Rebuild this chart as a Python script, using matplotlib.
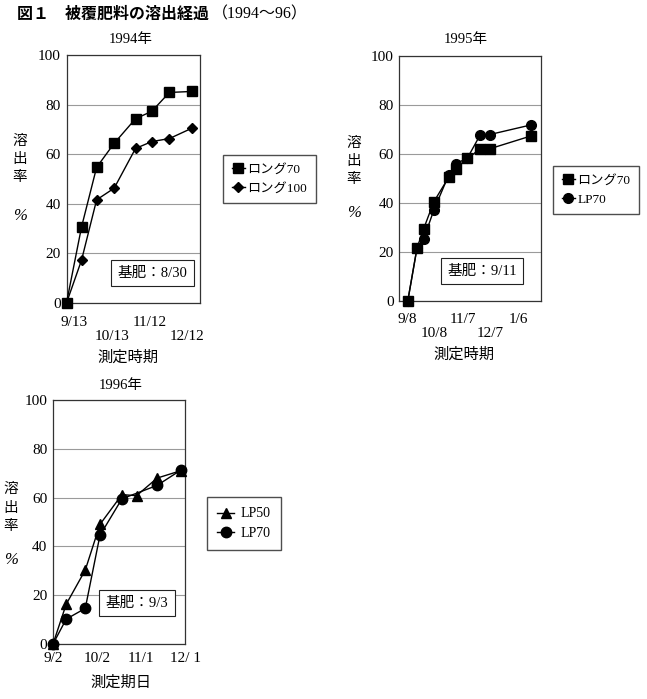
import matplotlib
matplotlib.use('Agg')
import matplotlib.pyplot as plt
import matplotlib.dates as mdates
import pandas as pd

plt.rcParams['font.family'] = ['Liberation Serif', 'Noto Sans CJK JP']

W, H = 647, 699

# ---------------- data ----------------
# 1994
dates_1994 = ['1994-09-07', '1994-09-19', '1994-10-01', '1994-10-15',
              '1994-11-01', '1994-11-14', '1994-11-28', '1994-12-16']
long70_1994 = [0, 30.7, 54.7, 64.4, 74.3, 77.3, 84.9, 85.3]
long100_1994 = [0, 17.3, 41.6, 46.3, 62.3, 65.1, 66.3, 70.5]
ticks_1994 = ['1994-09-13', '1994-10-13', '1994-11-12', '1994-12-12']
ticklabels_1994 = ['9/13', '\n10/13', '11/12', '\n12/12']
xlim_1994 = ('1994-09-07', '1994-12-22')

# 1995
dates_1995 = ['1995-09-09', '1995-09-19', '1995-09-26', '1995-10-07', '1995-10-23',
              '1995-10-31', '1995-11-12', '1995-11-26', '1995-12-06', '1996-01-19']
long70_1995 = [0, 21.8, 29.5, 40.6, 50.6, 53.9, 58.3, 62.2, 62.2, 67.4]
lp70_1995 = [0, 21.8, 25.3, 37.2, 51.5, 56.2, 58.4, 68.0, 68.0, 71.9]
ticks_1995 = ['1995-09-08', '1995-10-08', '1995-11-07', '1995-12-07', '1996-01-06']
ticklabels_1995 = ['9/8', '\n10/8', '11/7', '\n12/7', '1/6']
xlim_1995 = ('1995-08-31', '1996-01-30')

# 1996
dates_lp50_1996 = ['1996-09-02', '1996-09-11', '1996-09-24', '1996-10-04',
                   '1996-10-19', '1996-10-29', '1996-11-12', '1996-11-28']
lp50_1996 = [0, 16.3, 30.3, 49.0, 61.2, 60.8, 68.0, 71.0]
dates_lp70_1996 = ['1996-09-02', '1996-09-11', '1996-09-24', '1996-10-04',
                   '1996-10-19', '1996-11-12', '1996-11-28']
lp70_1996 = [0, 10.2, 14.6, 44.5, 59.5, 65.0, 71.2]
ticks_1996 = ['1996-09-02', '1996-10-02', '1996-11-01', '1996-12-01']
ticklabels_1996 = ['9/2', '10/2', '11/1', '12/ 1']
xlim_1996 = ('1996-09-02', '1996-12-01')

yticks = [0, 20, 40, 60, 80, 100]


def d(lst):
    return mdates.date2num(pd.to_datetime(list(lst)))


def rect(l, r, t, b):
    return [l / W, 1 - b / H, (r - l) / W, (b - t) / H]


def fx(x):
    return x / W


def fy(y):
    return 1 - y / H


fig = plt.figure(figsize=(W / 100, H / 100), dpi=100)


def style(ax, xlim, ticks, labels, pad, ls):
    ax.set_xlim(d(xlim))
    ax.set_ylim(0, 100)
    ax.set_yticks(yticks)
    ax.set_yticklabels([str(v) for v in yticks], fontsize=11)
    ax.set_xticks(d(ticks))
    ax.set_xticklabels(labels, fontsize=11, linespacing=ls)
    ax.tick_params(axis='both', length=0)
    ax.tick_params(axis='y', pad=4)
    ax.tick_params(axis='x', pad=pad)
    ax.grid(axis='y', color='#9a9a9a', lw=0.8)
    ax.grid(axis='x', visible=False)
    ax.set_axisbelow(True)
    for s in ax.spines.values():
        s.set_color('#333333')
        s.set_linewidth(0.9)


def ylabel(x, ys):
    for ch, y in zip(['溶', '出', '率', '%'], ys):
        if ch == '%':
            fig.text(fx(x), fy(y), ch, ha='center', va='center', fontsize=12,
                     family=['Liberation Serif'], style='italic')
        else:
            fig.text(fx(x), fy(y), ch, ha='center', va='center', fontsize=10.5,
                     family=['Noto Sans CJK JP'])


def note(cx, cy, s):
    fig.text(fx(cx), fy(cy), s, ha='center', va='center', fontsize=10.5,
             bbox=dict(boxstyle='square,pad=0.45', fc='white', ec='#222222', lw=0.8))


# -------- 1994 --------
ax1 = fig.add_axes(rect(66.5, 199.5, 55, 303))
l1, = ax1.plot(d(dates_1994), long70_1994, color='black', lw=1.0, marker='s',
               ms=7, clip_on=False, zorder=3, label='ロング70')
l2, = ax1.plot(d(dates_1994), long100_1994, color='black', lw=1.0, marker='D',
               ms=5.5, clip_on=False, zorder=3, label='ロング100')
style(ax1, xlim_1994, ticks_1994, ticklabels_1994, 9, 1.15)
fig.text(fx(131), fy(39), '1994年', ha='center', va='center', fontsize=10.5)
fig.text(fx(128), fy(358), '測定時期', ha='center', va='center', fontsize=11)
ylabel(20, [141, 159, 177, 216])
note(152, 273, '基肥：8/30')
fig.legend(handles=[l1, l2], loc='upper left', bbox_to_anchor=(fx(223), fy(155)),
           frameon=True, fancybox=False, edgecolor='#222222', fontsize=9.5,
           handlelength=1.0, handletextpad=0.2, borderpad=0.65, labelspacing=0.5,
           borderaxespad=0)

# -------- 1995 --------
ax2 = fig.add_axes(rect(399.3, 541, 56, 301.5))
l3, = ax2.plot(d(dates_1995), long70_1995, color='black', lw=1.0, marker='s',
               ms=7, clip_on=False, zorder=3, label='ロング70')
l4, = ax2.plot(d(dates_1995), lp70_1995, color='black', lw=1.0, marker='o',
               ms=7, clip_on=False, zorder=3, label='LP70')
style(ax2, xlim_1995, ticks_1995, ticklabels_1995, 8, 1.1)
fig.text(fx(466), fy(40), '1995年', ha='center', va='center', fontsize=10.5)
fig.text(fx(464), fy(355), '測定時期', ha='center', va='center', fontsize=11)
ylabel(354, [143, 161, 179, 213])
note(482, 271, '基肥：9/11')
fig.legend(handles=[l3, l4], loc='upper left', bbox_to_anchor=(fx(553), fy(166)),
           frameon=True, fancybox=False, edgecolor='#222222', fontsize=9.5,
           handlelength=1.0, handletextpad=0.2, borderpad=0.65, labelspacing=0.5,
           borderaxespad=0)

# -------- 1996 --------
ax3 = fig.add_axes(rect(53, 185, 400, 644))
l5, = ax3.plot(d(dates_lp50_1996), lp50_1996, color='black', lw=1.0, marker='^',
               ms=7.5, clip_on=False, zorder=3, label='LP50')
l6, = ax3.plot(d(dates_lp70_1996), lp70_1996, color='black', lw=1.0, marker='o',
               ms=7.5, clip_on=False, zorder=3, label='LP70')
style(ax3, xlim_1996, ticks_1996, ticklabels_1996, 6, 1.1)
fig.text(fx(121), fy(386), '1996年', ha='center', va='center', fontsize=10.5)
fig.text(fx(121), fy(683), '測定期日', ha='center', va='center', fontsize=11)
ylabel(11, [489, 508, 526, 560])
note(137, 603, '基肥：9/3')
fig.legend(handles=[l5, l6], loc='upper left', bbox_to_anchor=(fx(207), fy(497)),
           frameon=True, fancybox=False, edgecolor='#222222', fontsize=10,
           handlelength=1.2, handletextpad=0.45, borderpad=0.75, labelspacing=0.45,
           borderaxespad=0)

# -------- figure title --------
fig.text(fx(17), fy(14), '図１　被覆肥料の溶出経過', ha='left', va='center',
         fontsize=11.5, weight='bold', family=['Noto Sans CJK JP'])
fig.text(fx(212), fy(14), '（1994～96）', ha='left', va='center', fontsize=11.5,
         family=['Liberation Serif', 'Noto Sans CJK JP'])

fig.savefig('out.png', dpi=100)
